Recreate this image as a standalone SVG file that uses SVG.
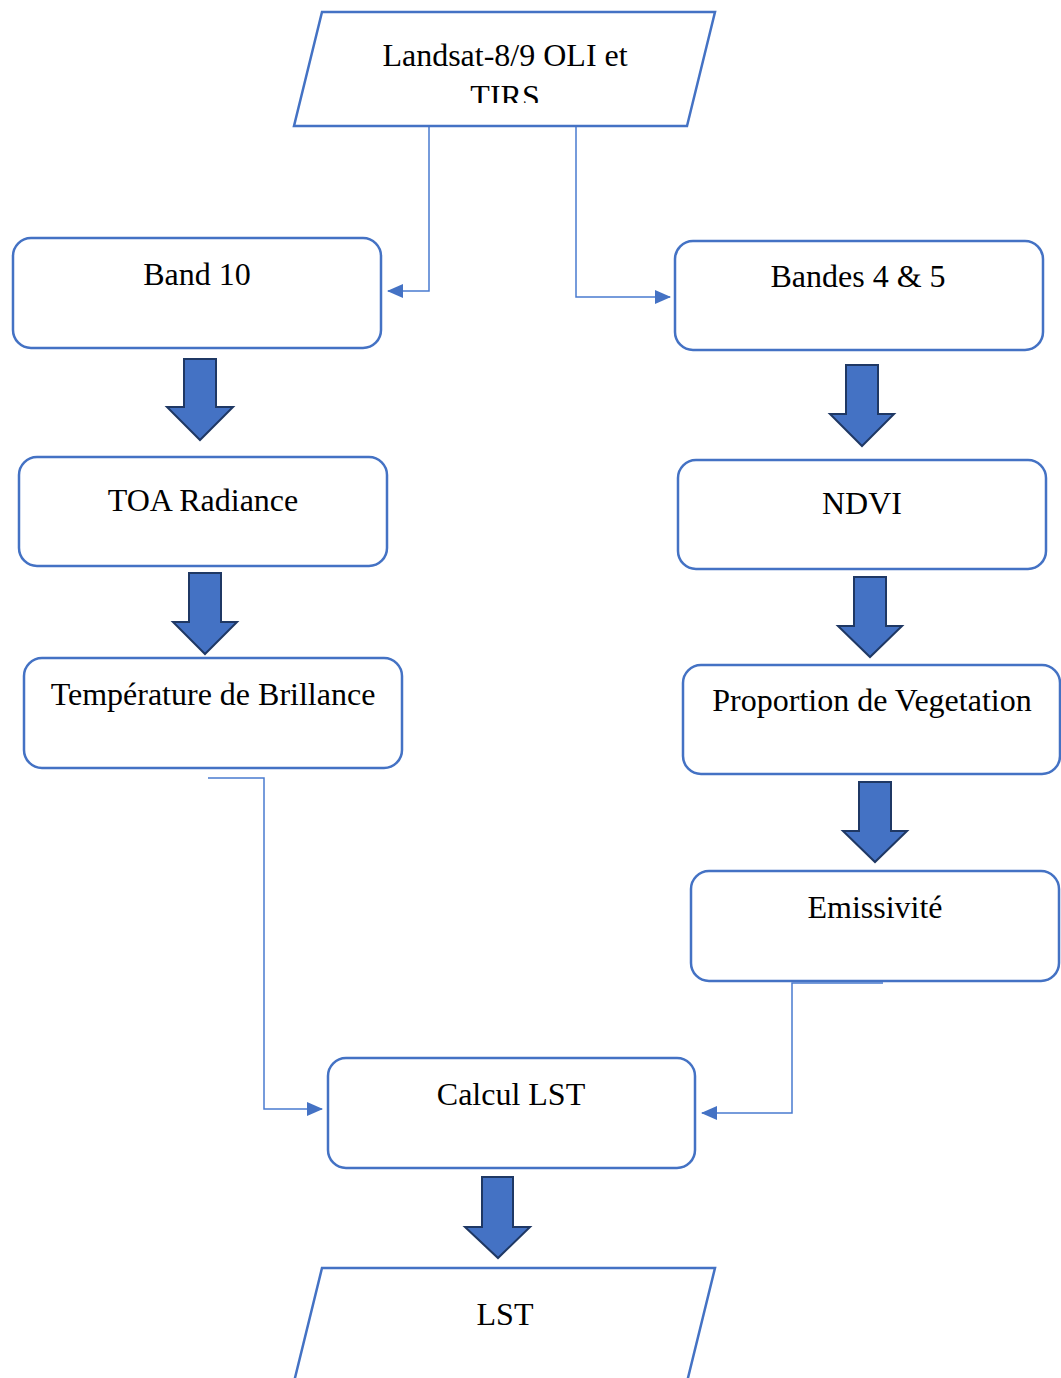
<svg xmlns="http://www.w3.org/2000/svg" width="1061" height="1378" viewBox="0 0 1061 1378">
<defs>
<style>
.box{fill:#fff;stroke:#4472C4;stroke-width:2.5}
.lbl{font-family:"Liberation Serif","Times New Roman",serif;font-size:32px;fill:#000;text-anchor:middle}
.con{fill:none;stroke:#4A7BCF;stroke-width:1.5}
.blk{fill:#4472C4;stroke:#1F3864;stroke-width:2;stroke-linejoin:miter}
</style>
<marker id="ah" viewBox="0 0 16 14" refX="15" refY="7" markerWidth="16" markerHeight="14" markerUnits="userSpaceOnUse" orient="auto">
<path d="M0,0 L16,7 L0,14 Z" fill="#4472C4"/>
</marker>
<clipPath id="clipTop"><rect x="0" y="0" width="1061" height="103"/></clipPath>
</defs>
<rect width="1061" height="1378" fill="#fff"/>

<g id="connectors">
<path class="con" d="M471,123 H429 V291 H388" marker-end="url(#ah)"/>
<path class="con" d="M482,123 H576 V297 H670" marker-end="url(#ah)"/>
<path class="con" d="M208,778 H264 V1109 H322" marker-end="url(#ah)"/>
<path class="con" d="M883,983 H792 V1113 H702" marker-end="url(#ah)"/>
</g>

<g id="arrows">
<path class="blk" d="M184,359 H216 V407 H233 L200,440 L167,407 H184 Z"/>
<path class="blk" d="M189,573 H221 V622 H237 L205,654 L173,622 H189 Z"/>
<path class="blk" d="M846,365 H878 V414 H894 L862,446 L830,414 H846 Z"/>
<path class="blk" d="M854,577 H886 V626 H902 L870,657 L838,626 H854 Z"/>
<path class="blk" d="M859,782 H891 V831 H907 L875,862 L843,831 H859 Z"/>
<path class="blk" d="M482,1177 H513 V1227 H530 L498,1258 L465,1227 H482 Z"/>
</g>

<g id="n-landsat">
<path class="box" d="M322,12 H715 L687,126 H294 Z"/>
<text class="lbl" x="505" y="66">Landsat-8/9 OLI et</text>
<text class="lbl" x="505" y="107" clip-path="url(#clipTop)">TIRS</text>
</g>

<g id="n-band10">
<rect class="box" x="13" y="238" width="368" height="110" rx="18"/>
<text class="lbl" x="197" y="285">Band 10</text>
</g>

<g id="n-bandes45">
<rect class="box" x="675" y="241" width="368" height="109" rx="18"/>
<text class="lbl" x="858" y="287">Bandes 4 &amp; 5</text>
</g>

<g id="n-toa">
<rect class="box" x="19" y="457" width="368" height="109" rx="18"/>
<text class="lbl" x="203" y="511">TOA Radiance</text>
</g>

<g id="n-ndvi">
<rect class="box" x="678" y="460" width="368" height="109" rx="18"/>
<text class="lbl" x="862" y="514">NDVI</text>
</g>

<g id="n-temp">
<rect class="box" x="24" y="658" width="378" height="110" rx="18"/>
<text class="lbl" x="213" y="705">Température de Brillance</text>
</g>

<g id="n-prop">
<rect class="box" x="683" y="665" width="377" height="109" rx="18"/>
<text class="lbl" x="872" y="711">Proportion de Vegetation</text>
</g>

<g id="n-emis">
<rect class="box" x="691" y="871" width="368" height="110" rx="18"/>
<text class="lbl" x="875" y="918">Emissivité</text>
</g>

<g id="n-calcul">
<rect class="box" x="328" y="1058" width="367" height="110" rx="18"/>
<text class="lbl" x="511" y="1105">Calcul LST</text>
</g>

<g id="n-lst">
<path class="box" d="M322,1268 H715 L686,1386 H293 Z"/>
<text class="lbl" x="505" y="1325">LST</text>
</g>
</svg>
